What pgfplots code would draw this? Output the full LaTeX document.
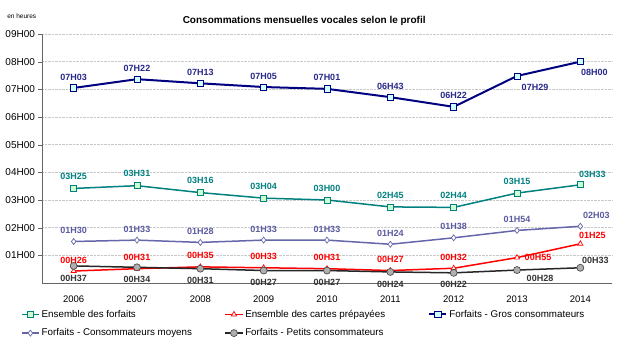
\documentclass[border=0pt]{standalone}
\usepackage{fontspec}
\setmainfont{Liberation Sans}
\usepackage{pgfplots}
\usepackage{pgfplotstable}
\pgfplotsset{compat=1.18}

\definecolor{cteal}{RGB}{0,128,128}
\definecolor{ctealfill}{RGB}{204,255,204}
\definecolor{cnavy}{RGB}{0,0,128}
\definecolor{cnavyfill}{RGB}{204,255,255}
\definecolor{cnavylab}{RGB}{40,40,140}
\definecolor{cslate}{RGB}{102,102,170}
\definecolor{cslatelab}{RGB}{90,90,160}
\definecolor{cred}{RGB}{255,0,0}
\definecolor{cgrayfill}{RGB}{175,175,175}
\definecolor{cgridc}{RGB}{200,200,200}

\pgfplotsset{lbl/.style n args={3}{
  draw=none, mark=none, forget plot,
  point meta=explicit symbolic,
  nodes near coords={\pgfplotspointmeta},
  every node near coord/.append style={anchor=center, inner sep=0pt,
    text=#1, xshift=#2, yshift=#3,
    font=\bfseries\fontsize{9}{10}\selectfont},
}}

\pgfplotstableread{
x y lab
0 3.417 03H25
1 3.517 03H31
2 3.267 03H16
3 3.067 03H04
4 3.000 03H00
5 2.750 02H45
6 2.733 02H44
7 3.250 03H15
8 3.550 03H33
}\forfaits

\pgfplotstableread{
x y lab
0 0.433 00H26
1 0.517 00H31
2 0.583 00H35
3 0.550 00H33
4 0.517 00H31
5 0.450 00H27
6 0.533 00H32
7 0.917 00H55
8 1.417 01H25
}\prepaid

\pgfplotstableread{
x y lab
0 7.050 07H03
1 7.367 07H22
2 7.217 07H13
3 7.083 07H05
4 7.017 07H01
5 6.717 06H43
6 6.367 06H22
7 7.483 07H29
8 8.000 08H00
}\gros

\pgfplotstableread{
x y lab
0 1.500 01H30
1 1.550 01H33
2 1.467 01H28
3 1.550 01H33
4 1.550 01H33
5 1.400 01H24
6 1.633 01H38
7 1.900 01H54
8 2.050 02H03
}\moyens

\pgfplotstableread{
x y lab
0 0.617 00H37
1 0.567 00H34
2 0.517 00H31
3 0.450 00H27
4 0.450 00H27
5 0.400 00H24
6 0.367 00H22
7 0.467 00H28
8 0.550 00H33
}\petits

\begin{document}
\begin{tikzpicture}
\begin{axis}[
  scale only axis, width=570pt, height=249pt,
  xmin=-0.5, xmax=8.5, ymin=0, ymax=9,
  clip=false,
  axis x line=bottom, axis y line=left,
  axis line style={-, draw=gray!80!black, line width=0.6pt},
  xtick={0,...,8},
  xticklabels={2006,2007,2008,2009,2010,2011,2012,2013,2014},
  x tick label style={yshift=-5.5pt},
  x tick style={draw=none},
  extra x ticks={-0.5,0.5,1.5,2.5,3.5,4.5,5.5,6.5,7.5,8.5},
  extra x tick labels={},
  extra x tick style={grid=none, tick style={draw=gray!80!black}},
  major tick length=3.5pt,
  ytick={1,...,9},
  yticklabels={01H00,02H00,03H00,04H00,05H00,06H00,07H00,08H00,09H00},
  y tick style={draw=gray!80!black},
  tick align=outside,
  ymajorgrids,
  grid style={densely dotted, draw=cgridc, line width=0.8pt},
  tick label style={font=\fontsize{9.5}{10}\selectfont},
  y tick label style={font=\fontsize{10}{11}\selectfont},
  /pgf/number format/assume math mode=true,
  legend columns=3,
  legend cell align=left,
  legend style={draw=none, fill=none, inner sep=0pt,
    at={(rel axis cs:-0.037,-0.1)}, anchor=north west,
    row sep=6pt, font=\fontsize{9.8}{10.5}\selectfont},
]
\coordinate (bl) at (rel axis cs:0,0);
\coordinate (tr) at (rel axis cs:1,1);

\addplot[color=cteal, line width=1.5pt, mark=square*,
  mark options={fill=ctealfill, draw=cteal, line width=0.7pt, mark size=3pt}]
  table[x=x, y=y]{\forfaits};
\addlegendentry{\makebox[181pt][l]{Ensemble des forfaits}}

\addplot[color=cred, line width=1.5pt, mark=triangle*,
  mark options={fill=white, draw=cred, line width=0.7pt, mark size=3pt}]
  table[x=x, y=y]{\prepaid};
\addlegendentry{\makebox[181pt][l]{Ensemble des cartes prépayées}}

\addplot[color=cnavy, line width=2pt, mark=square*,
  mark options={fill=cnavyfill, draw=cnavy, line width=0.7pt, mark size=3.1pt}]
  table[x=x, y=y]{\gros};
\addlegendentry{\makebox[181pt][l]{Forfaits - Gros consommateurs}}

\addplot[color=cslate, line width=1.5pt, mark=diamond*,
  mark options={fill=white, draw=cslate, line width=0.7pt, mark size=3pt}]
  table[x=x, y=y]{\moyens};
\addlegendentry{\makebox[181pt][l]{Forfaits - Consommateurs moyens}}

\addplot[color=black!85, line width=1.5pt, mark=*,
  mark options={fill=cgrayfill, draw=black!70, line width=0.7pt, mark size=3.5pt}]
  table[x=x, y=y]{\petits};
\addlegendentry{\makebox[181pt][l]{Forfaits - Petits consommateurs}}

% data labels
\addplot[lbl={cteal}{0pt}{12pt}, skip coords between index={8}{9}] table[x=x, y=y, meta=lab]{\forfaits};
\addplot[lbl={cteal}{12pt}{10pt}, skip coords between index={0}{8}] table[x=x, y=y, meta=lab]{\forfaits};

\addplot[lbl={cred}{0pt}{11pt}, skip coords between index={7}{9}] table[x=x, y=y, meta=lab]{\prepaid};
\addplot[lbl={cred}{21pt}{0pt}, skip coords between index={0}{7}, skip coords between index={8}{9}] table[x=x, y=y, meta=lab]{\prepaid};
\addplot[lbl={cred}{12pt}{8pt}, skip coords between index={0}{8}] table[x=x, y=y, meta=lab]{\prepaid};

\addplot[lbl={cnavylab}{0pt}{11pt}, skip coords between index={7}{9}] table[x=x, y=y, meta=lab]{\gros};
\addplot[lbl={cnavylab}{18pt}{-11pt}, skip coords between index={0}{7}, skip coords between index={8}{9}] table[x=x, y=y, meta=lab]{\gros};
\addplot[lbl={cnavylab}{14pt}{-11pt}, skip coords between index={0}{8}] table[x=x, y=y, meta=lab]{\gros};

\addplot[lbl={cslatelab}{0pt}{11pt}, skip coords between index={8}{9}] table[x=x, y=y, meta=lab]{\moyens};
\addplot[lbl={cslatelab}{16pt}{11pt}, skip coords between index={0}{8}] table[x=x, y=y, meta=lab]{\moyens};

\addplot[lbl={black!80}{0pt}{-12pt}, skip coords between index={7}{9}] table[x=x, y=y, meta=lab]{\petits};
\addplot[lbl={black!80}{23pt}{-8pt}, skip coords between index={0}{7}, skip coords between index={8}{9}] table[x=x, y=y, meta=lab]{\petits};
\addplot[lbl={black!80}{15pt}{7pt}, skip coords between index={0}{8}] table[x=x, y=y, meta=lab]{\petits};

\node[anchor=west, font=\fontsize{6.5}{7}\selectfont] at (rel axis cs:-0.067,1.072) {en heures};
\node[font=\bfseries\fontsize{10}{12}\selectfont] at (rel axis cs:0.46,1.052) {Consommations mensuelles vocales selon le profil};
\end{axis}
\pgfresetboundingbox
\path ([shift={(-42pt,-67pt)}]bl) rectangle ([shift={(8pt,34pt)}]tr);
\end{tikzpicture}
\end{document}
